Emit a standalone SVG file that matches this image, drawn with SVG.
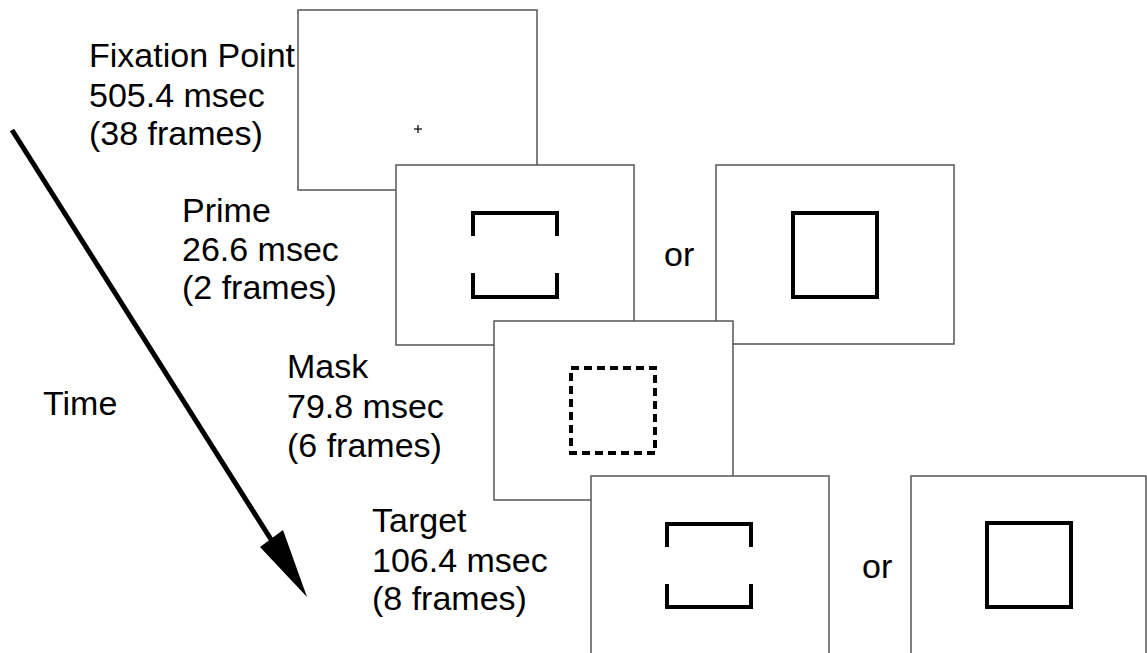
<svg xmlns="http://www.w3.org/2000/svg" width="1147" height="653" viewBox="0 0 1147 653">
<style>
.frame{fill:#fff;stroke:#555;stroke-width:1.5}
.shape{fill:none;stroke:#000;stroke-width:4;stroke-linecap:butt}
.lbl{font-family:"Liberation Sans",Arial,sans-serif;font-size:34px;fill:#000}
</style>
<rect width="1147" height="653" fill="#fff"/>
<g id="connectors">
<line x1="12" y1="130" x2="272" y2="541" stroke="#000" stroke-width="5"/>
<polygon points="307,597 260,547 283,530" fill="#000"/>
</g>
<g id="time-label"><text class="lbl" x="43" y="415">Time</text></g>
<g id="fixation">
<rect class="frame" x="298" y="10" width="239" height="180"/>
<line x1="414" y1="129" x2="422" y2="129" stroke="#000" stroke-width="1.2"/>
<line x1="418" y1="125" x2="418" y2="133" stroke="#000" stroke-width="1.2"/>
<text class="lbl" x="89" y="67">Fixation Point</text>
<text class="lbl" x="89" y="107">505.4 msec</text>
<text class="lbl" x="89" y="145">(38 frames)</text>
</g>
<g id="prime">
<rect class="frame" x="396" y="165" width="238" height="180"/>
<path class="shape" d="M473,236 V213 H557 V236 M473,273 V297 H557 V273"/>
<text class="lbl" x="182" y="222">Prime</text>
<text class="lbl" x="182" y="261">26.6 msec</text>
<text class="lbl" x="182" y="299">(2 frames)</text>
</g>
<g id="or1"><text class="lbl" x="664" y="266">or</text></g>
<g id="prime-alt">
<rect class="frame" x="716" y="165" width="238" height="179"/>
<rect class="shape" x="793" y="213" width="84" height="84"/>
</g>
<g id="mask">
<rect class="frame" x="494" y="321" width="239" height="179"/>
<rect class="shape" x="571" y="368" width="84" height="85" stroke-dasharray="8,5"/>
<text class="lbl" x="287" y="378">Mask</text>
<text class="lbl" x="287" y="418">79.8 msec</text>
<text class="lbl" x="287" y="457">(6 frames)</text>
</g>
<g id="target">
<rect class="frame" x="591" y="476" width="238" height="190"/>
<path class="shape" d="M667,547 V524 H751 V547 M667,584 V607 H751 V584"/>
<text class="lbl" x="372" y="532">Target</text>
<text class="lbl" x="372" y="572">106.4 msec</text>
<text class="lbl" x="372" y="610">(8 frames)</text>
</g>
<g id="or2"><text class="lbl" x="862" y="578">or</text></g>
<g id="target-alt">
<rect class="frame" x="911" y="476" width="235" height="190"/>
<rect class="shape" x="987" y="523" width="84" height="84"/>
</g>
</svg>
